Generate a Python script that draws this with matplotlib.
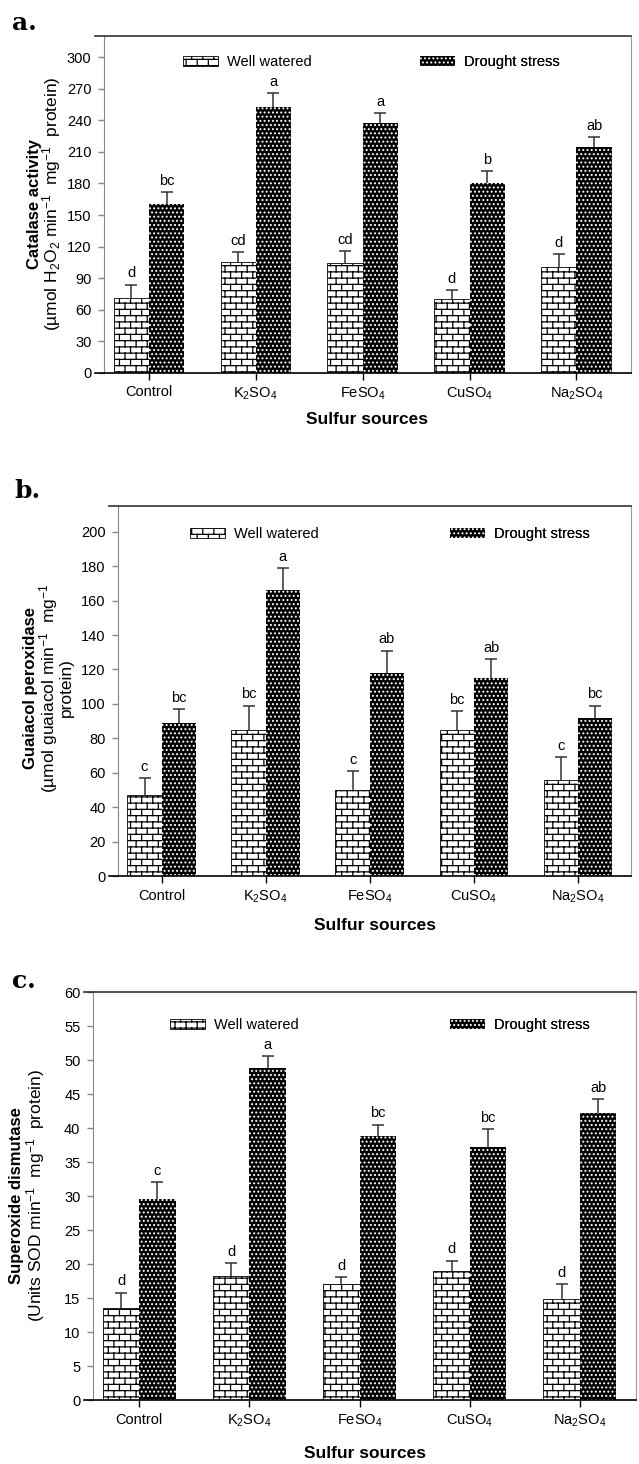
import numpy as np
import matplotlib
matplotlib.use('Agg')
import matplotlib.pyplot as plt
from matplotlib import hatch as mhatch
from matplotlib.path import Path

plt.rcParams['font.family'] = ['Liberation Sans', 'DejaVu Sans']
plt.rcParams['mathtext.fontset'] = 'custom'
plt.rcParams['mathtext.rm'] = 'Liberation Sans'
plt.rcParams['mathtext.it'] = 'Liberation Sans:italic'
plt.rcParams['mathtext.bf'] = 'Liberation Sans:bold'
plt.rcParams['hatch.linewidth'] = 0.9

sources = ['Control', 'K$_2$SO$_4$', 'FeSO$_4$', 'CuSO$_4$', 'Na$_2$SO$_4$']

# a. catalase
cat_well = [71, 105, 104, 70, 101]
cat_well_err = [13, 10, 12, 9, 12]
cat_drought = [160, 253, 237, 180, 215]
cat_drought_err = [12, 13, 10, 12, 9]
cat_well_sig = ['d', 'cd', 'cd', 'd', 'd']
cat_drought_sig = ['bc', 'a', 'a', 'b', 'ab']

# b. guaiacol peroxidase
gpx_well = [47, 85, 50, 85, 56]
gpx_well_err = [10, 14, 11, 11, 13]
gpx_drought = [89, 166, 118, 115, 92]
gpx_drought_err = [8, 13, 13, 11, 7]
gpx_well_sig = ['c', 'bc', 'c', 'bc', 'c']
gpx_drought_sig = ['bc', 'a', 'ab', 'ab', 'bc']

# c. superoxide dismutase
sod_well = [13.6, 18.3, 17.0, 19.0, 14.9]
sod_well_err = [2.2, 1.8, 1.1, 1.5, 2.1]
sod_drought = [29.5, 48.8, 38.8, 37.2, 42.2]
sod_drought_err = [2.5, 1.8, 1.7, 2.6, 2.1]
sod_well_sig = ['d', 'd', 'd', 'd', 'd']
sod_drought_sig = ['c', 'a', 'bc', 'bc', 'ab']


# brick hatch: '-' draws brick courses instead of plain horizontal lines
class BrickHatch(mhatch.HatchPatternBase):
    def __init__(self, hatch, density):
        self.rows = 16 if '-' in hatch else 0
        self.cols = 9
        self.num_vertices = self.rows * 2 + self.rows * self.cols * 2 + self.cols * 2 * (self.rows > 0)

    def set_vertices_and_codes(self, vertices, codes):
        k = 0
        r, c = self.rows, self.cols
        for i in range(r):
            y0 = (i + 0.5) / r
            y1 = min((i + 1.5) / r, 1.0)
            vertices[k] = (0, y0)
            vertices[k + 1] = (1, y0)
            codes[k] = Path.MOVETO
            codes[k + 1] = Path.LINETO
            k += 2
            for j in range(c):
                x = (j + 0.25 + 0.5 * (i % 2)) / c
                vertices[k] = (x, y0)
                vertices[k + 1] = (x, y1)
                codes[k] = Path.MOVETO
                codes[k + 1] = Path.LINETO
                k += 2
        # wrap of the last course
        for j in range(c):
            x = (j + 0.25 + 0.5 * ((r - 1) % 2)) / c
            vertices[k] = (x, 0)
            vertices[k + 1] = (x, 0.5 / r)
            codes[k] = Path.MOVETO
            codes[k + 1] = Path.LINETO
            k += 2


mhatch._hatch_types[0] = BrickHatch

W, H = 639, 1464
fig = plt.figure(figsize=(W / 100, H / 100), dpi=100)


def fx(x):
    return x / W


def fy(y):
    return 1 - y / H


def draw_panel(box, ymax, step, well, well_err, drought, drought_err,
               well_sig, drought_sig, ylines, ylab_x, ylab_y, leg_pos, letter, letter_pos, xlab_y):
    left, top, right, bottom = box
    ax = fig.add_axes([fx(left), fy(bottom), fx(right - left), (bottom - top) / H])
    x = np.arange(len(sources))
    w = 0.33
    b1 = ax.bar(x - w / 2, well, w, color='white', edgecolor='black', linewidth=0.6,
                hatch='-', label='Well watered', zorder=2)
    b2 = ax.bar(x + w / 2, drought, w, color='black', edgecolor='white', linewidth=0,
                hatch='....', label='Drought stress', zorder=2)
    for xs, vals, errs, sig in [(x - w / 2, well, well_err, well_sig),
                                (x + w / 2, drought, drought_err, drought_sig)]:
        eb = ax.errorbar(xs, vals, yerr=[np.zeros(len(vals)), errs], fmt='none',
                         ecolor='#333333', elinewidth=1.1, capsize=4, capthick=1.1, zorder=3)
        for cl in eb.lines[1]:
            if np.allclose(cl.get_ydata(), vals):
                cl.set_visible(False)
        for xi, v, e, s in zip(xs, vals, errs, sig):
            ax.annotate(s, (xi, v + e), xytext=(0, 3), textcoords='offset points',
                        ha='center', va='bottom', fontsize=10.5)

    ax.set_xlim(-0.42, 4.51)
    ax.set_ylim(0, ymax)
    ax.set_yticks(np.arange(0, ymax - (ymax % step) + 0.01, step))
    ax.set_xticks(x)
    ax.set_xticklabels(sources)
    ax.tick_params(axis='y', direction='out', length=4, width=1, color='#888888',
                   labelsize=10.5, pad=5)
    ax.tick_params(axis='x', direction='out', length=5, width=1, color='black',
                   labelsize=10.5, pad=4)
    ext = -0.42 - 9 * 4.93 / (right - left)
    ax.spines['top'].set_bounds(ext, 4.51)
    ax.spines['bottom'].set_bounds(ext, 4.51)
    ax.spines['top'].set_color('#333333')
    ax.spines['top'].set_linewidth(1.2)
    ax.spines['bottom'].set_color('black')
    ax.spines['bottom'].set_linewidth(1.2)
    ax.spines['left'].set_color('#888888')
    ax.spines['right'].set_color('#999999')

    ax.set_xlabel('Sulfur sources', fontsize=12.5, fontweight='bold')
    ax.xaxis.set_label_coords(0.5, -(xlab_y - 9 - bottom) / (bottom - top))

    for i, (txt, lx) in enumerate(zip(ylines, ylab_x)):
        fig.text(fx(lx), fy(ylab_y), txt, rotation=90, ha='center', va='center',
                 fontsize=12 if i == 0 else 12.5, fontweight='bold' if i == 0 else 'normal')

    for h, lab, (lx, ly) in zip([b1, b2], ['Well watered', 'Drought stress'], leg_pos):
        leg = ax.legend([h], [lab], loc='center left', bbox_to_anchor=(fx(lx), fy(ly)),
                        bbox_transform=fig.transFigure, frameon=False, fontsize=10.5,
                        handlelength=2.4, handleheight=0.7, handletextpad=0.6,
                        borderpad=0, borderaxespad=0)
        ax.add_artist(leg)

    fig.text(fx(letter_pos[0]), fy(letter_pos[1]), letter, fontfamily='DejaVu Serif',
             fontweight='bold', fontsize=18, va='baseline', ha='left')
    return ax


draw_panel((104, 36, 631, 373), 320, 30, cat_well, cat_well_err, cat_drought, cat_drought_err,
           cat_well_sig, cat_drought_sig,
           ['Catalase activity', '(µmol H$_2$O$_2$ min$^{-1}$  mg$^{-1}$  protein)'],
           [34, 52], 204, [(183, 62), (420, 62)], 'a.', (12, 30), 421)

draw_panel((118, 506, 631, 876), 215, 20, gpx_well, gpx_well_err, gpx_drought, gpx_drought_err,
           gpx_well_sig, gpx_drought_sig,
           ['Guaiacol peroxidase', '(µmol guaiacol min$^{-1}$  mg$^{-1}$', 'protein)'],
           [31, 49, 66], 688, [(190, 534), (450, 534)], 'b.', (14, 498), 927)

draw_panel((93, 992, 636, 1400), 60, 5, sod_well, sod_well_err, sod_drought, sod_drought_err,
           sod_well_sig, sod_drought_sig,
           ['Superoxide dismutase', '(Units SOD min$^{-1}$  mg$^{-1}$  protein)'],
           [17, 36], 1196, [(170, 1025), (450, 1025)], 'c.', (12, 988), 1455)

plt.savefig('out.png', dpi=100)
